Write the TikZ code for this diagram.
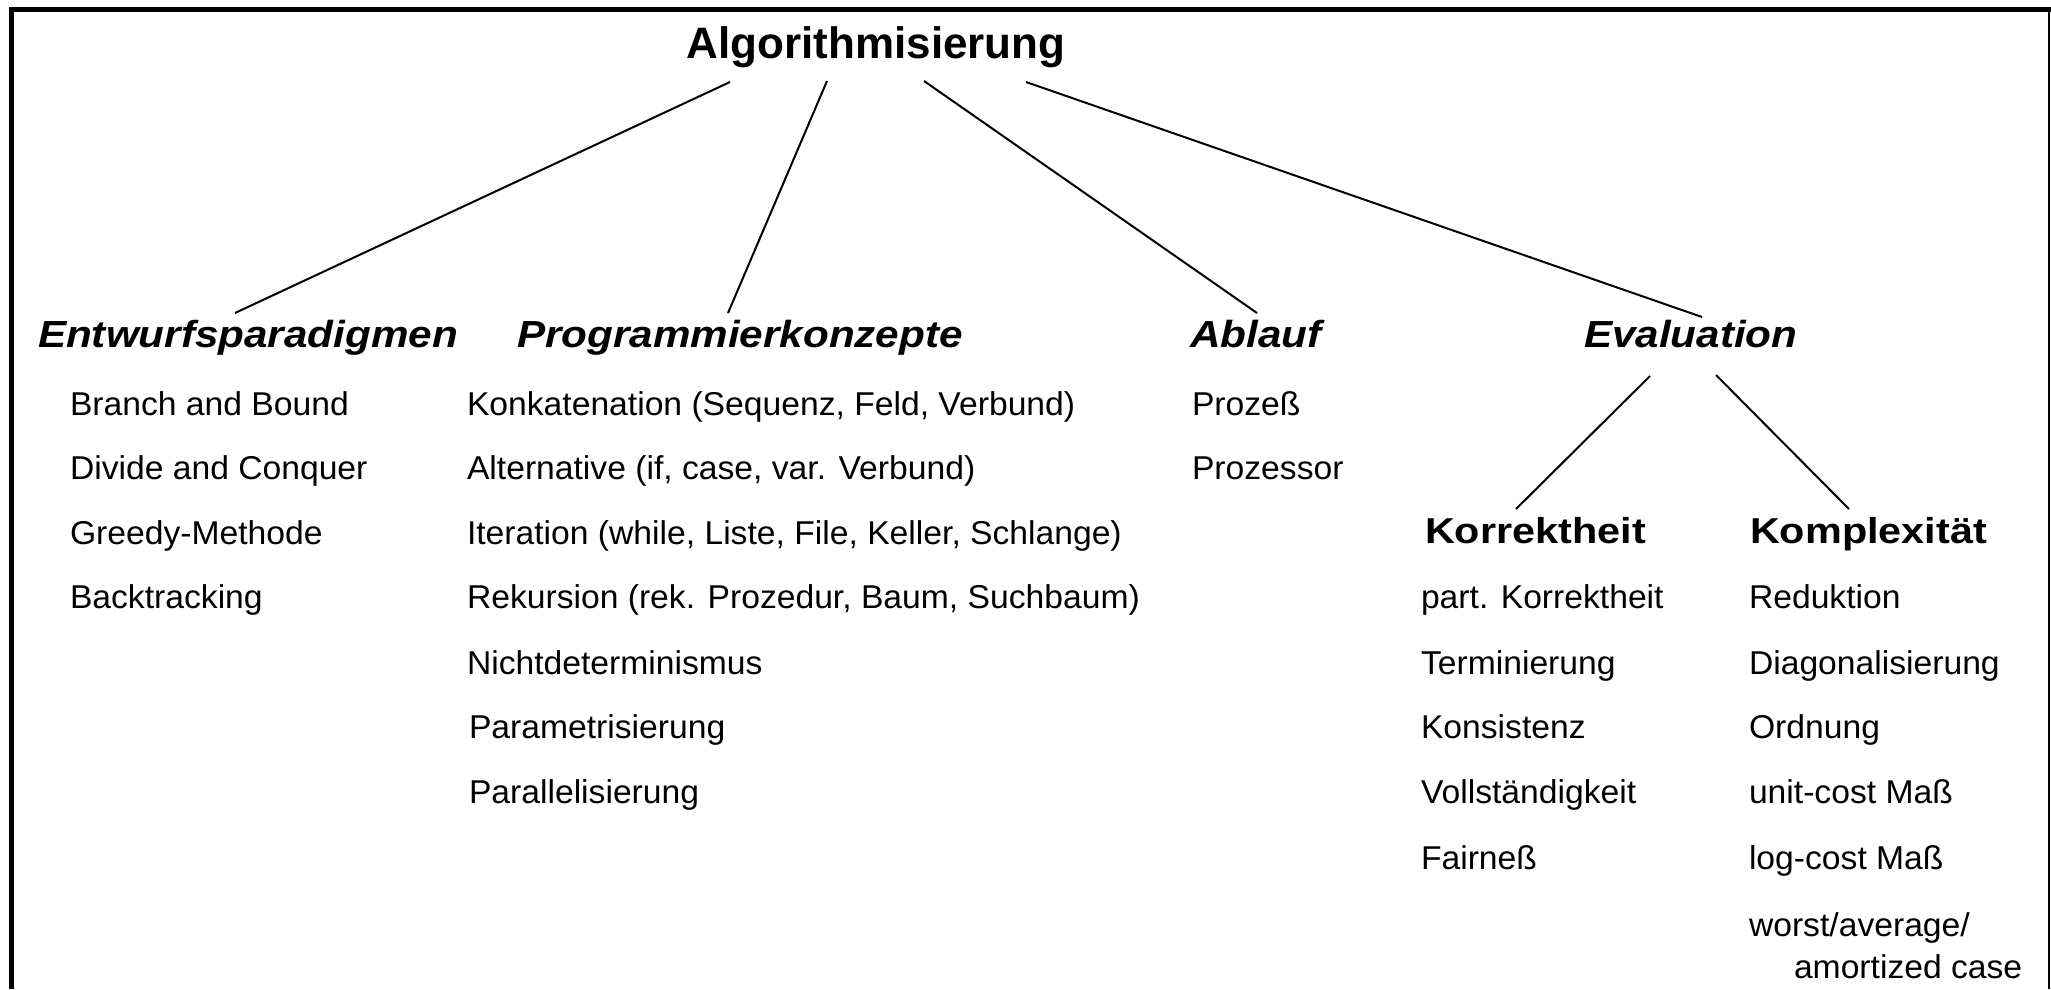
\documentclass[tikz,border=0pt]{standalone}
\usepackage{fontspec}
\setmainfont{Liberation Sans}
\newfontfamily\itemfont[FakeStretch=1.02]{Liberation Sans}
\newfontfamily\hdfont[FakeStretch=1.12]{Liberation Sans}
\newfontfamily\subfont[FakeStretch=1.15]{Liberation Sans}
\usetikzlibrary{calc}
\begin{document}
\begin{tikzpicture}[x=1pt,y=-1pt,
  every node/.style={inner sep=0pt, outer sep=0pt},
  ttl/.style={anchor=base, font=\bfseries\fontsize{44}{50}\selectfont},
  hd/.style={anchor=base west, font=\hdfont\bfseries\itshape\fontsize{37.7}{45}\selectfont},
  sub/.style={anchor=base west, font=\subfont\bfseries\fontsize{36}{42}\selectfont},
  item/.style={anchor=base west, font=\itemfont\fontsize{33}{40}\selectfont},
  conn/.style={line width=2pt},
  frame/.style={line width=4.6pt}]
\useasboundingbox (0,0) rectangle (2051,989);
\fill[white] (0,0) rectangle (2051,989);
% frame
\draw[frame] (11.2,989) -- (11.2,9.7) -- (2051,9.7);
\draw[line width=1.5pt] (2049,9.7) -- (2049,989);

% title
\node[ttl] (title) at (876,58) {Algorithmisierung};

% headers
\node[hd] (entw) at (38,347) {Entwurfsparadigmen};
\node[hd] (prog) at (517,347) {Programmierkonzepte};
\node[hd] (abl) at (1190,347) {Ablauf};
\node[hd] (eval) at (1584,347) {Evaluation};
\node[sub] (korr) at (1425,543) {Korrektheit};
\node[sub] (kompl) at (1750,543) {Komplexität};

% column 1
\node[item] (e1) at (70,415) {Branch and Bound};
\node[item] (e2) at (70,479) {Divide and Conquer};
\node[item] (e3) at (70,544) {Greedy-Methode};
\node[item] (e4) at (70,608) {Backtracking};

% column 2
\node[item] (p1) at (467,415) {Konkatenation (Sequenz, Feld, Verbund)};
\node[item] (p2) at (467,479) {Alternative (if, case, var. Verbund)};
\node[item] (p3) at (467,544) {Iteration (while, Liste, File, Keller, Schlange)};
\node[item] (p4) at (467,608) {Rekursion (rek. Prozedur, Baum, Suchbaum)};
\node[item] (p5) at (467,674) {Nichtdeterminismus};
\node[item] (p6) at (469,738) {Parametrisierung};
\node[item] (p7) at (469,803) {Parallelisierung};

% column 3
\node[item] (a1) at (1192,415) {Prozeß};
\node[item] (a2) at (1192,479) {Prozessor};

% Korrektheit
\node[item] (k1) at (1421,608) {part. Korrektheit};
\node[item] (k2) at (1421,674) {Terminierung};
\node[item] (k3) at (1421,738) {Konsistenz};
\node[item] (k4) at (1421,803) {Vollständigkeit};
\node[item] (k5) at (1421,869) {Fairneß};

% Komplexitaet
\node[item] (c1) at (1749,608) {Reduktion};
\node[item] (c2) at (1749,674) {Diagonalisierung};
\node[item] (c3) at (1749,738) {Ordnung};
\node[item] (c4) at (1749,803) {unit-cost Maß};
\node[item] (c5) at (1749,869) {log-cost Maß};
\node[item] (c6) at (1749,936) {worst/average/};
\node[item] (c7) at (1794,978) {amortized case};

% connectors
\draw[conn] ($(title.base)+(-146,24)$) -- ($(entw.base west)+(197,-34)$);
\draw[conn] ($(title.base)+(-49,23)$) -- ($(prog.base west)+(211,-34)$);
\draw[conn] ($(title.base)+(48,23)$) -- ($(abl.base west)+(67,-34)$);
\draw[conn] ($(title.base)+(150,24)$) -- ($(eval.base west)+(118,-30)$);
\draw[conn] ($(eval.base west)+(66,29)$) -- ($(korr.base west)+(91,-34)$);
\draw[conn] ($(eval.base west)+(132,28)$) -- ($(kompl.base west)+(99,-34)$);
\end{tikzpicture}
\end{document}
